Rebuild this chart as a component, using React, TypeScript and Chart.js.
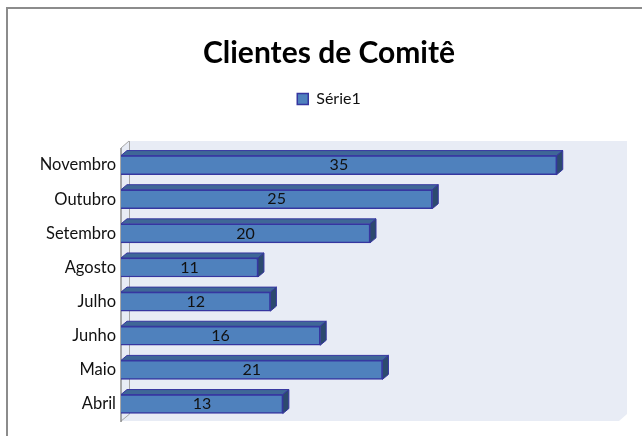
import React, { useEffect, useRef } from "react";
import { Chart, registerables } from "chart.js";

Chart.register(...registerables);

const months = ["Novembro", "Outubro", "Setembro", "Agosto", "Julho", "Junho", "Maio", "Abril"];
const clients = [35, 25, 20, 11, 12, 16, 21, 13];
const seriesName = "Série1";
const chartTitle = "Clientes de Comitê";

const FONT = "Lato, 'Open Sans', sans-serif";
const FRONT = "#4f81bd";
const TOP = "#3f6797";
const SIDE = "#2c4a6e";
const EDGE = "#3636a0";
const WALL = "#e8ecf5";
const DX = 6;
const DY = 5;
const WX = 8;
const WY = 7;

const frame = {
  id: "frame",
  beforeDraw(chart: any) {
    const { ctx } = chart;
    ctx.save();
    ctx.fillStyle = "#ffffff";
    ctx.fillRect(0, 0, chart.width, chart.height);
    ctx.strokeStyle = "#8c8c8c";
    ctx.lineWidth = 2;
    ctx.strokeRect(7, 8, chart.width + 10, chart.height + 10);
    ctx.restore();
  },
  beforeDatasetsDraw(chart: any) {
    const { ctx, chartArea: a } = chart;
    ctx.save();
    ctx.fillStyle = WALL;
    ctx.beginPath();
    ctx.moveTo(a.left + WX, a.top - WY);
    ctx.lineTo(a.right + WX, a.top - WY);
    ctx.lineTo(a.right + WX, a.bottom - WY);
    ctx.lineTo(a.right, a.bottom);
    ctx.lineTo(a.left, a.bottom);
    ctx.lineTo(a.left, a.top);
    ctx.closePath();
    ctx.fill();
    ctx.strokeStyle = "#a6a6a6";
    ctx.lineWidth = 1;
    ctx.beginPath();
    ctx.moveTo(a.left + WX + 0.5, a.top - WY);
    ctx.lineTo(a.left + WX + 0.5, a.bottom - WY);
    ctx.lineTo(a.left, a.bottom);
    ctx.stroke();
    ctx.beginPath();
    ctx.moveTo(a.left, a.top);
    ctx.lineTo(a.left + WX, a.top - WY);
    ctx.stroke();
    ctx.strokeStyle = "#8c8c8c";
    ctx.lineWidth = 1.5;
    ctx.beginPath();
    ctx.moveTo(a.left, a.top);
    ctx.lineTo(a.left, a.bottom + 1);
    ctx.stroke();
    ctx.restore();
  },
  afterDatasetsDraw(chart: any) {
    const { ctx } = chart;
    const bars = chart.getDatasetMeta(0).data;
    ctx.save();
    bars.forEach((bar: any, i: number) => {
      const l = bar.base;
      const r = bar.x;
      const t = bar.y - bar.height / 2;
      const b = bar.y + bar.height / 2;
      ctx.lineWidth = 1;
      ctx.strokeStyle = EDGE;
      ctx.lineJoin = "round";
      ctx.fillStyle = TOP;
      ctx.beginPath();
      ctx.moveTo(l, t);
      ctx.lineTo(l + DX, t - DY);
      ctx.lineTo(r + DX, t - DY);
      ctx.lineTo(r, t);
      ctx.closePath();
      ctx.fill();
      ctx.stroke();
      ctx.fillStyle = SIDE;
      ctx.beginPath();
      ctx.moveTo(r, t);
      ctx.lineTo(r + DX, t - DY);
      ctx.lineTo(r + DX, b - DY);
      ctx.lineTo(r, b);
      ctx.closePath();
      ctx.fill();
      ctx.stroke();
      ctx.fillStyle = "#111111";
      ctx.font = `16px ${FONT}`;
      ctx.textAlign = "center";
      ctx.textBaseline = "middle";
      ctx.fillText(String(clients[i]), (l + r) / 2, bar.y);
    });
    ctx.restore();
  },
};

export default function App() {
  const ref = useRef<HTMLCanvasElement>(null);
  useEffect(() => {
    const chart = new Chart(ref.current!, {
      type: "bar",
      data: {
        labels: months,
        datasets: [
          {
            label: seriesName,
            data: clients,
            backgroundColor: FRONT,
            borderColor: EDGE,
            borderWidth: 1.5,
            barThickness: 19,
          },
        ],
      },
      options: {
        indexAxis: "y",
        animation: false,
        responsive: false,
        layout: { padding: { left: 39, right: 23, top: 0, bottom: 13 } },
        scales: {
          x: {
            min: 0,
            max: 40,
            position: "top",
            grid: { display: false, drawTicks: false },
            border: { display: false },
            ticks: { display: false },
            afterFit(s: any) {
              s.height = 31;
            },
          },
          y: {
            grid: { display: false, drawTicks: false },
            border: { display: false },
            ticks: {
              color: "#111111",
              font: { family: FONT, size: 16.5 },
              padding: 5,
              autoSkip: false,
            },
            afterFit(s: any) {
              s.width = 82;
            },
          },
        },
        plugins: {
          title: {
            display: true,
            text: chartTitle,
            color: "#000000",
            font: { family: FONT, size: 30, weight: "bold" },
            padding: { top: 35, bottom: 16 },
          },
          legend: {
            display: true,
            position: "top",
            labels: {
              boxWidth: 11,
              boxHeight: 11,
              color: "#111111",
              font: { family: FONT, size: 16 },
              padding: 4,
            },
          },
          tooltip: { enabled: false },
        },
      } as any,
      plugins: [frame],
    });
    return () => chart.destroy();
  }, []);
  return (
    <canvas
      ref={ref}
      width={642}
      height={436}
      style={{ position: "fixed", left: 0, top: 0, width: 642, height: 436 }}
    />
  );
}
